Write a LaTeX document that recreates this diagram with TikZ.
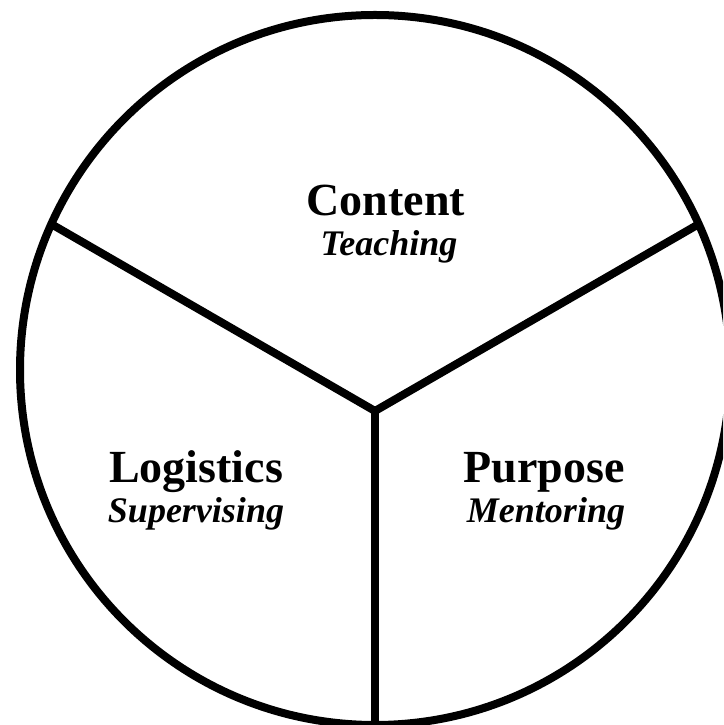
\documentclass[tikz,border=0pt]{standalone}
\usepackage{fontspec}
\setmainfont{Liberation Serif}
\usetikzlibrary{intersections}

\tikzset{
  area/.style={anchor=base, font=\bfseries\fontsize{46}{50}\selectfont},
  role/.style={anchor=base, font=\bfseries\itshape\fontsize{36}{40}\selectfont}
}

\begin{document}
\begin{tikzpicture}[x=1pt, y=1pt, line width=8pt]
  \clip (0,0) rectangle (723,725);
  \draw [name path=rim] (375,355) circle[radius=355];
  \coordinate (hub) at (375,314);
  \path [name path=leftspoke] (hub) -- +(150:420);
  \path [name path=rightspoke] (hub) -- +(30:420);
  \draw [name intersections={of=leftspoke and rim}] (hub) -- (intersection-1);
  \draw [name intersections={of=rightspoke and rim}] (hub) -- (intersection-1);
  \draw (hub) -- +(0,-330);
%  labels of the three areas
  \node [area] (content) at (386,509) {Content};
  \node [role] (teaching) at (389,469) {Teaching};
  \node [area] (logistics) at (196,242) {Logistics};
  \node [role] (supervising) at (196,202) {Supervising};
  \node [area] (purpose) at (544,242) {Purpose};
  \node [role] (mentoring) at (546,202) {Mentoring};
\end{tikzpicture}
\end{document}
